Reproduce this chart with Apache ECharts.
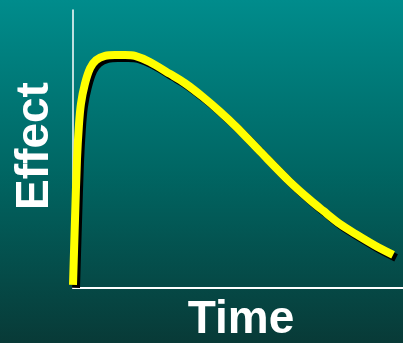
<!DOCTYPE html>
<html>
<head>
<meta charset="utf-8">
<style>
  html, body { margin: 0; padding: 0; }
  #chart { width: 403px; height: 343px; }
</style>
<script src="https://cdn.jsdelivr.net/npm/echarts@6/dist/echarts.min.js"></script>
</head>
<body>
<div id="chart"></div>
<script>
// Effect of a single dose over time: fast onset, peak, slow decline
const timePoints = [0, 0.6, 1.2, 1.8, 2.4, 3.6, 5.2, 7.0, 9.7, 12.7, 15.8, 18.8, 23.3, 29.4, 33.9, 39.4, 44.5, 49.7, 56.7, 65.8, 71.8, 75.8, 80.9, 86.1, 91.5, 97.0];
const effectValues = [1.1, 24.5, 46.0, 58.6, 66.2, 73.4, 79.1, 82.0, 83.5, 83.8, 83.8, 83.5, 81.3, 77.0, 73.7, 68.7, 63.5, 57.7, 49.1, 38.1, 31.7, 27.8, 23.0, 19.1, 15.3, 11.9];
const xTitle = 'Time';
const yTitle = 'Effect';

const curve = timePoints.map((t, i) => [t, effectValues[i]]);

const chart = echarts.init(document.getElementById('chart'));

const titleStyle = {
  fill: '#ffffff',
  fontFamily: '"Liberation Sans", Arial, sans-serif',
  fontWeight: 'bold',
  fontSize: 46,
  textShadowColor: '#000000',
  textShadowOffsetX: 2,
  textShadowOffsetY: 2,
  textShadowBlur: 0
};

chart.setOption({
  animation: false,
  backgroundColor: {
    type: 'linear', x: 0, y: 0, x2: 0, y2: 1,
    colorStops: [
      { offset: 0, color: '#008c8c' },
      { offset: 0.5, color: '#006663' },
      { offset: 1, color: '#083a37' }
    ]
  },
  grid: { left: 73, right: 0, top: 10, bottom: 55 },
  xAxis: {
    type: 'value', min: 0, max: 100,
    axisLine: { show: true, lineStyle: { color: '#ffffff', width: 2 } },
    axisTick: { show: false }, axisLabel: { show: false }, splitLine: { show: false }
  },
  yAxis: {
    type: 'value', min: 0, max: 100,
    axisLine: { show: true, lineStyle: { color: '#ffffff', width: 1.5 } },
    axisTick: { show: false }, axisLabel: { show: false }, splitLine: { show: false }
  },
  series: [{
    type: 'line',
    data: curve,
    smooth: 0.3,
    showSymbol: false,
    lineStyle: {
      color: '#ffff00',
      width: 8,
      cap: 'butt',
      shadowColor: '#000000',
      shadowOffsetX: 3,
      shadowOffsetY: 3,
      shadowBlur: 0
    }
  }],
  graphic: [
    {
      type: 'text', x: 241, y: 320,
      style: Object.assign({ text: xTitle, textAlign: 'center', textVerticalAlign: 'middle' }, titleStyle)
    },
    {
      type: 'text', x: 35, y: 146, rotation: Math.PI / 2,
      style: Object.assign({ text: yTitle, textAlign: 'center', textVerticalAlign: 'middle' }, titleStyle)
    }
  ]
});
</script>
</body>
</html>
